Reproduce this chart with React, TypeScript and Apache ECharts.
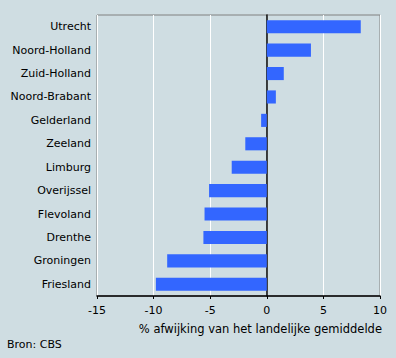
import React, { useEffect, useRef } from "react";
import * as echarts from "echarts";

const provinces = [
  "Utrecht", "Noord-Holland", "Zuid-Holland", "Noord-Brabant", "Gelderland", "Zeeland",
  "Limburg", "Overijssel", "Flevoland", "Drenthe", "Groningen", "Friesland",
];
const deviation = [8.3, 3.9, 1.5, 0.8, -0.5, -1.9, -3.1, -5.1, -5.5, -5.6, -8.8, -9.8];
const axisTitle = "% afwijking van het landelijke gemiddelde";
const source = "Bron: CBS";

const FONT = "DejaVu Sans, Verdana, sans-serif";

export default function App() {
  const ref = useRef<HTMLDivElement>(null);
  useEffect(() => {
    const chart = echarts.init(ref.current!, null, { renderer: "svg" });
    chart.setOption({
      animation: false,
      backgroundColor: "#cfdde2",
      textStyle: { fontFamily: FONT },
      grid: {
        left: 97, right: 16, top: 15, bottom: 62,
        show: true, borderColor: "#808080", borderWidth: 1, backgroundColor: "transparent",
      },
      xAxis: {
        type: "value", min: -15, max: 10, interval: 5,
        axisLine: { show: true, lineStyle: { color: "#000", width: 1.5 } },
        axisTick: { show: true, length: 3, lineStyle: { color: "#000" } },
        axisLabel: { color: "#000", fontSize: 11, fontFamily: FONT, margin: 9 },
        splitLine: { show: true, lineStyle: { color: "#ffffff", width: 1 } },
      },
      yAxis: {
        type: "category", data: provinces, inverse: true,
        axisLine: { show: true, onZero: true, lineStyle: { color: "#000", width: 1.5 } },
        axisTick: { show: false },
        axisLabel: { color: "#000", fontSize: 11, fontFamily: FONT, margin: 6 },
        splitLine: { show: false },
      },
      series: [{
        type: "bar", data: deviation, barWidth: "56%",
        itemStyle: { color: "#3366ff" },
      }],
      graphic: [
        { type: "text", right: 14, top: 323, style: { text: axisTitle, fill: "#000", font: `11.5px ${FONT}` } },
        { type: "text", left: 7, top: 339, style: { text: source, fill: "#000", font: `11px ${FONT}` } },
      ],
    });
    return () => chart.dispose();
  }, []);
  return <div ref={ref} style={{ width: 396, height: 358, position: "absolute", left: 0, top: 0 }} />;
}
